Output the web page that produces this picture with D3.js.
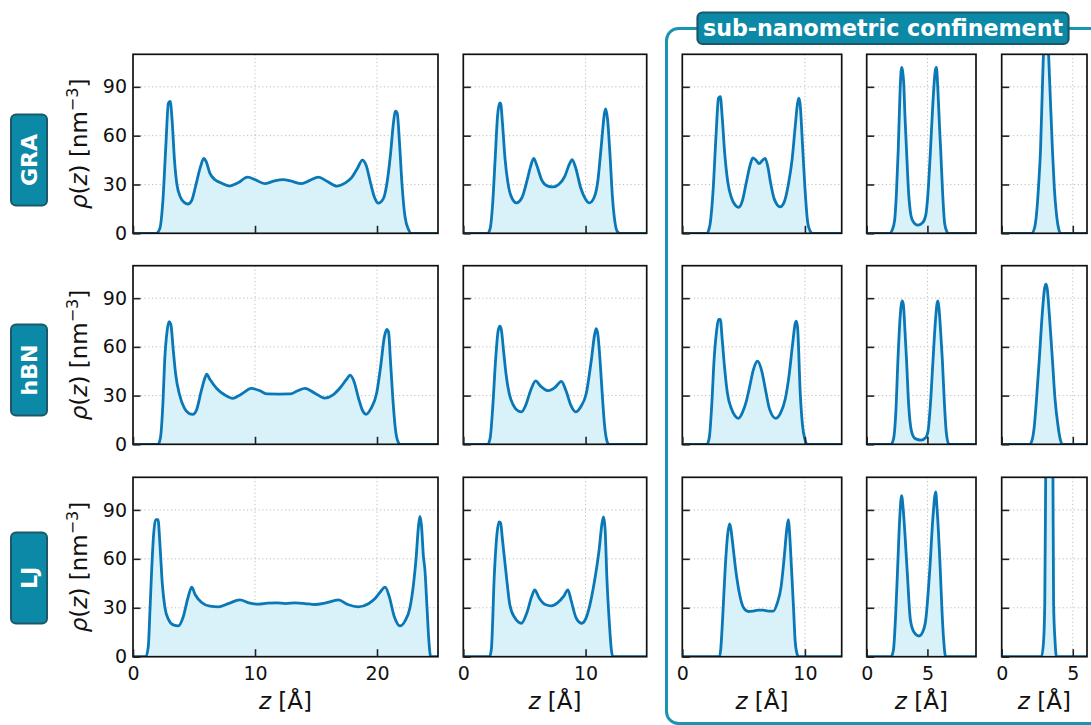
<!DOCTYPE html>
<html><head><meta charset="utf-8">
<script src="https://cdn.jsdelivr.net/npm/d3@7"></script>
<style>body{margin:0;background:#fff} svg{display:block} text{font-family:"DejaVu Sans",sans-serif}</style>
</head><body><svg id="c" width="1091" height="725"></svg>
<script>
// ---------- data ----------
const rowNames = ["GRA", "hBN", "LJ"];
const xMax = [25, 15, 13, 9, 6];
const xTickVals = [[0, 10, 20], [0, 10], [0, 10], [0, 5], [0, 5]];
const yTickVals = [0, 30, 60, 90];
const yMax = 110;
const bannerText = "sub-nanometric confinement";

// [z (Å), rho (nm^-3)]
const GRA_1 = [[0,0],[1.9,0],[2.2,3],[2.45,20],[2.7,55],[2.9,80],[3.05,81],[3.2,70],[3.4,45],[3.6,30],[3.9,22],[4.2,19],[4.5,18],[4.8,20],[5.1,28],[5.5,40],[5.8,46],[6.0,44],[6.3,37],[6.7,33],[7.2,31],[7.9,29],[8.6,31],[9.4,34.5],[10.0,33],[10.8,30.5],[11.5,32],[12.3,33],[13.0,32],[13.8,30.5],[14.5,32.5],[15.2,34.5],[15.9,32],[16.7,29],[17.4,31],[17.9,34],[18.4,40],[18.8,45],[19.1,42],[19.5,30],[19.8,22],[20.1,18.5],[20.5,21],[20.8,30],[21.1,48],[21.35,68],[21.5,75],[21.65,74],[21.85,55],[22.05,30],[22.3,10],[22.6,2],[22.8,0],[25,0]];
const GRA_2 = [[0,0],[2.0,0],[2.2,3],[2.4,18],[2.6,45],[2.8,72],[2.95,80],[3.05,80],[3.2,68],[3.4,47],[3.65,31],[3.9,23],[4.35,18.7],[4.8,22],[5.2,32],[5.5,41],[5.76,46],[6.0,42],[6.4,33],[6.9,29],[7.34,28.5],[7.8,30],[8.3,35],[8.65,42],[8.9,45.3],[9.2,40],[9.6,28],[10.0,21],[10.3,18.7],[10.7,22],[11.0,32],[11.3,55],[11.55,74],[11.65,76.5],[11.8,70],[12.0,48],[12.2,22],[12.4,7],[12.6,1],[12.8,0],[15,0]];
const GRA_3 = [[0,0],[2.0,0],[2.25,5],[2.5,25],[2.75,60],[2.95,83],[3.1,84],[3.25,72],[3.45,50],[3.7,32],[4.0,22],[4.3,17.5],[4.6,16],[4.9,20],[5.2,30.5],[5.5,41],[5.75,46.3],[6.0,45],[6.27,42.8],[6.5,44.5],[6.76,46],[7.0,40],[7.2,31],[7.5,21],[7.98,16.3],[8.3,19],[8.66,30.5],[8.95,45],[9.2,65],[9.4,80],[9.5,83],[9.6,80],[9.8,55],[10.0,28],[10.24,6],[10.5,0.5],[10.6,0],[13,0]];
const GRA_4 = [[0,0],[1.9,0],[2.1,2],[2.3,8],[2.45,25],[2.6,52],[2.75,88],[2.87,102],[2.95,100],[3.05,92],[3.15,72],[3.28,51],[3.45,25],[3.6,13],[3.8,7.5],[4.2,5],[4.6,6.5],[4.86,11],[5.05,25],[5.25,51],[5.45,80],[5.65,100],[5.74,102],[5.85,90],[6.0,65],[6.1,50],[6.25,25],[6.42,6],[6.6,1],[6.7,0],[9,0]];
const GRA_5 = [[0,0],[2.1,0],[2.3,3],[2.45,12],[2.6,30],[2.73,51],[2.87,92],[3.0,125],[3.1,135],[3.2,128],[3.38,92],[3.57,51],[3.7,28],[3.85,12],[4.0,3],[4.13,0],[6,0]];

const hBN_1 = [[0,0],[2.05,0],[2.25,4],[2.45,25],[2.6,52],[2.8,70],[2.95,75.5],[3.1,74],[3.3,58],[3.5,43],[3.8,31],[4.2,22.5],[4.6,19],[4.9,18.4],[5.2,21],[5.6,33],[5.9,41],[6.04,43.2],[6.3,40],[6.86,34.4],[7.5,30.5],[8.17,28.3],[8.9,31],[9.7,34.4],[10.4,33],[11,31],[12,30.9],[12.9,31],[13.5,33],[14.1,34.4],[14.9,31.5],[15.7,28.5],[16.4,30.5],[17,35],[17.5,40],[17.8,42.6],[18.1,39],[18.5,28],[18.8,21],[19.1,18.5],[19.5,22],[19.97,31.4],[20.3,48],[20.6,66],[20.8,70.7],[20.95,69],[21.1,52],[21.3,28],[21.5,10],[21.7,2],[21.9,0],[25,0]];
const hBN_2 = [[0,0],[2.0,0],[2.2,4],[2.4,22],[2.64,51.8],[2.85,70],[2.99,72.8],[3.1,71],[3.3,57],[3.5,43],[3.75,31.4],[4.1,24],[4.5,20.5],[4.76,20],[5.1,24],[5.5,33],[5.92,39.1],[6.3,36],[6.96,33],[7.5,35],[8.02,38.7],[8.4,33],[8.8,24],[9.18,20],[9.6,23],[10.06,31.4],[10.47,51.8],[10.75,68],[10.87,71.3],[11.0,68],[11.2,50],[11.36,31.4],[11.55,12],[11.75,2],[11.9,0],[15,0]];
const hBN_3 = [[0,0],[2.0,0],[2.2,4],[2.4,24],[2.59,51.8],[2.8,70],[2.95,77],[3.1,77],[3.25,65],[3.45,47],[3.68,31.4],[4.0,22],[4.3,17.5],[4.58,16],[4.9,19.5],[5.2,26],[5.45,34],[5.8,46],[6.13,51.2],[6.45,46],[6.8,33],[7.1,22],[7.63,16],[8.0,19],[8.4,28],[8.7,42],[9.0,62],[9.2,74],[9.29,75.8],[9.4,72],[9.62,31.4],[9.8,12],[10.0,3],[10.2,0],[13,0]];
const hBN_4 = [[0,0],[2.0,0],[2.2,3],[2.4,20],[2.57,51.8],[2.75,78],[2.92,88.3],[3.02,86],[3.15,70],[3.28,51.8],[3.45,25],[3.69,8],[4.0,3.5],[4.5,2.6],[4.85,4],[5.05,8],[5.25,25],[5.46,51.8],[5.65,75],[5.8,87],[5.87,88.3],[5.95,84],[6.1,68],[6.23,51.8],[6.4,25],[6.56,6.8],[6.77,0],[9,0]];
const hBN_5 = [[0,0],[1.98,0],[2.15,3],[2.29,10.8],[2.45,28],[2.64,51.8],[2.85,80],[3.0,95],[3.1,98.6],[3.2,96],[3.35,80],[3.57,51.8],[3.75,28],[3.97,10.8],[4.12,3],[4.27,0],[6,0]];

const LJ_1 = [[0,0],[1.05,0],[1.25,6],[1.4,30],[1.53,53],[1.7,76],[1.85,84],[2.05,84],[2.2,70],[2.4,45],[2.62,30],[2.9,23],[3.3,19.5],[3.72,18.9],[4.1,24],[4.5,36],[4.81,42.6],[5.1,38],[5.63,33.2],[6.3,31],[6.99,30.6],[7.8,32.5],[8.77,34.8],[9.5,33],[10.3,32.2],[11,32.8],[11.8,33],[12.5,32.6],[13.3,33],[14.1,32.6],[14.9,32],[15.8,33],[16.83,34.8],[17.6,32],[18.47,30.6],[19.3,32.5],[19.84,35.7],[20.3,40],[20.66,42.6],[21.0,37],[21.4,25],[21.89,18.9],[22.3,22],[22.7,30],[23.0,45],[23.2,60],[23.4,80],[23.52,86],[23.65,80],[23.8,62],[23.93,53],[24.1,30],[24.25,10],[24.4,0],[25,0]];
const LJ_2 = [[0,0],[2.15,0],[2.3,5],[2.53,49],[2.75,75],[2.92,82.6],[3.05,82],[3.2,72],[3.53,49],[3.8,32],[4.2,24],[4.76,20.5],[5.2,27],[5.6,37],[5.84,41],[6.2,36],[6.7,32],[7.2,31.2],[7.7,33],[8.2,37],[8.56,41],[8.8,35],[9.24,23.6],[9.7,20.5],[10.0,23],[10.33,31],[10.7,45],[11.1,65],[11.35,82],[11.47,85.7],[11.6,78],[11.74,49],[11.95,20],[12.1,5],[12.23,0],[15,0]];
const LJ_3 = [[0,0],[3.05,0],[3.15,6],[3.3,25],[3.49,53],[3.7,75],[3.85,81.4],[3.95,79],[4.1,70],[4.36,53],[4.71,36.9],[5.0,30],[5.39,27.7],[5.8,28],[6.2,28.5],[6.6,28.5],[7.0,28],[7.43,28],[7.75,33],[8.06,43],[8.3,60],[8.55,80],[8.66,84],[8.75,76],[8.9,55],[9.07,30],[9.2,10],[9.35,2],[9.48,0],[13,0]];
const LJ_4 = [[0,0],[2.0,0],[2.2,4],[2.38,25],[2.54,53],[2.72,85],[2.87,98.8],[3.0,91],[3.15,75],[3.33,53],[3.6,22.5],[3.9,15],[4.31,12.7],[4.6,15],[4.86,22.5],[5.19,53],[5.45,85],[5.68,101],[5.8,90],[6.06,53],[6.2,28],[6.34,10],[6.5,0],[9,0]];
const LJ_5 = [[0,0],[2.8,0],[2.95,10],[3.03,32.8],[3.1,120],[3.2,250],[3.35,300],[3.5,250],[3.6,120],[3.65,32.8],[3.75,10],[3.85,0],[6,0]];

const profiles = {
  GRA: [GRA_1, GRA_2, GRA_3, GRA_4, GRA_5],
  hBN: [hBN_1, hBN_2, hBN_3, hBN_4, hBN_5],
  LJ:  [LJ_1, LJ_2, LJ_3, LJ_4, LJ_5]
};

// ---------- layout ----------
const colX = [[133, 438], [463.3, 646.7], [682.3, 841.7], [866.7, 976], [1001.7, 1087]];
const rowY = [[54.3, 233.3], [265.7, 444.3], [477.3, 656.7]];
const rowLabelCY = [160, 370, 578];

const LINE = "#0a77b6", FILL = "#d9f2f9", TEAL = "#0d89a8", TEAL_DARK = "#1b5869", FRAME_TEAL = "#1b94b3";

const svg = d3.select("#c");
const defs = svg.append("defs");

rowNames.forEach((rn, ri) => {
  const [y0, y1] = rowY[ri];
  const y = d3.scaleLinear().domain([0, yMax]).range([y1, y0]);
  colX.forEach(([x0, x1], ci) => {
    const x = d3.scaleLinear().domain([0, xMax[ci]]).range([x0, x1]);
    const g = svg.append("g");
    const cid = `clip-${ri}-${ci}`;
    defs.append("clipPath").attr("id", cid).append("rect")
      .attr("x", x0).attr("y", y0).attr("width", x1 - x0).attr("height", y1 - y0);
    // grid
    const grid = g.append("g").attr("stroke", "#bdbdbd").attr("stroke-width", 1).attr("stroke-dasharray", "1.2,2.6");
    yTickVals.filter(v => v > 0).forEach(v => grid.append("line").attr("x1", x0).attr("x2", x1).attr("y1", y(v)).attr("y2", y(v)));
    xTickVals[ci].filter(v => v > 0).forEach(v => grid.append("line").attr("y1", y0).attr("y2", y1).attr("x1", x(v)).attr("x2", x(v)));
    const d = profiles[rn][ci];
    const plot = g.append("g").attr("clip-path", `url(#${cid})`);
    plot.append("path").datum(d)
      .attr("d", d3.area().x(p => x(p[0])).y0(y(0)).y1(p => y(p[1])).curve(d3.curveMonotoneX))
      .attr("fill", FILL);
    plot.append("path").datum(d)
      .attr("d", d3.line().x(p => x(p[0])).y(p => y(p[1])).curve(d3.curveMonotoneX))
      .attr("fill", "none").attr("stroke", LINE).attr("stroke-width", 2.8).attr("stroke-linejoin", "round");
    // frame
    g.append("rect").attr("x", x0).attr("y", y0).attr("width", x1 - x0).attr("height", y1 - y0)
      .attr("fill", "none").attr("stroke", "#111").attr("stroke-width", 1.7);
    // inward ticks
    const yAxis = d3.axisLeft(y).tickValues(yTickVals).tickSizeInner(-7.5).tickSizeOuter(0)
      .tickFormat(ci === 0 ? d3.format("d") : () => "");
    const ya = g.append("g").attr("transform", `translate(${x0},0)`).call(yAxis);
    const xAxis = d3.axisBottom(x).tickValues(xTickVals[ci]).tickSizeInner(-7.5).tickSizeOuter(0)
      .tickFormat(ri === 2 ? d3.format("d") : () => "");
    const xa = g.append("g").attr("transform", `translate(0,${y1})`).call(xAxis);
    [ya, xa].forEach(a => {
      a.select(".domain").remove();
      a.selectAll(".tick line").attr("stroke", "#222").attr("stroke-width", 1.6);
      a.selectAll(".tick text").attr("font-size", 19).attr("font-family", "DejaVu Sans").attr("fill", "#111");
    });
    ya.selectAll(".tick text").attr("x", -6);
    xa.selectAll(".tick text").attr("y", 10);
    if (ri === 2) {
      const t = svg.append("text").attr("x", (x0 + x1) / 2).attr("y", 709).attr("text-anchor", "middle")
        .attr("font-size", 23).attr("fill", "#111");
      t.append("tspan").attr("font-style", "italic").text("z");
      t.append("tspan").text(" [Å]");
    }
  });
  // y label
  const cy = (y0 + y1) / 2;
  const yl = svg.append("text").attr("transform", `translate(87,${cy}) rotate(-90)`).attr("text-anchor", "middle")
    .attr("font-size", 23).attr("fill", "#111");
  yl.append("tspan").attr("font-style", "italic").text("ρ");
  yl.append("tspan").text("(");
  yl.append("tspan").attr("font-style", "italic").text("z");
  yl.append("tspan").text(") [nm");
  yl.append("tspan").attr("font-size", 16).attr("dy", -9).text("−3");
  yl.append("tspan").attr("dy", 9).text("]");
  // row label box
  const by = rowLabelCY[ri];
  svg.append("rect").attr("x", 11).attr("y", by - 45.5).attr("width", 36).attr("height", 91).attr("rx", 5)
    .attr("fill", TEAL).attr("stroke", TEAL_DARK).attr("stroke-width", 2);
  svg.append("text").attr("transform", `translate(29,${by}) rotate(-90)`).attr("text-anchor", "middle")
    .attr("dominant-baseline", "central").attr("font-size", 22).attr("font-weight", "bold").attr("fill", "#fff").text(rn);
});

// confinement frame + banner
svg.append("rect").attr("x", 666.5).attr("y", 28.5).attr("width", 600).attr("height", 695).attr("rx", 12)
  .attr("fill", "none").attr("stroke", FRAME_TEAL).attr("stroke-width", 3);
svg.append("rect").attr("x", 697.5).attr("y", 12.5).attr("width", 371).attr("height", 31.5).attr("rx", 5)
  .attr("fill", TEAL).attr("stroke", TEAL_DARK).attr("stroke-width", 2.2);
svg.append("text").attr("x", 883).attr("y", 36).attr("text-anchor", "middle").attr("font-size", 22.2)
  .attr("font-weight", "bold").attr("fill", "#fff").text(bannerText);
</script></body></html>
